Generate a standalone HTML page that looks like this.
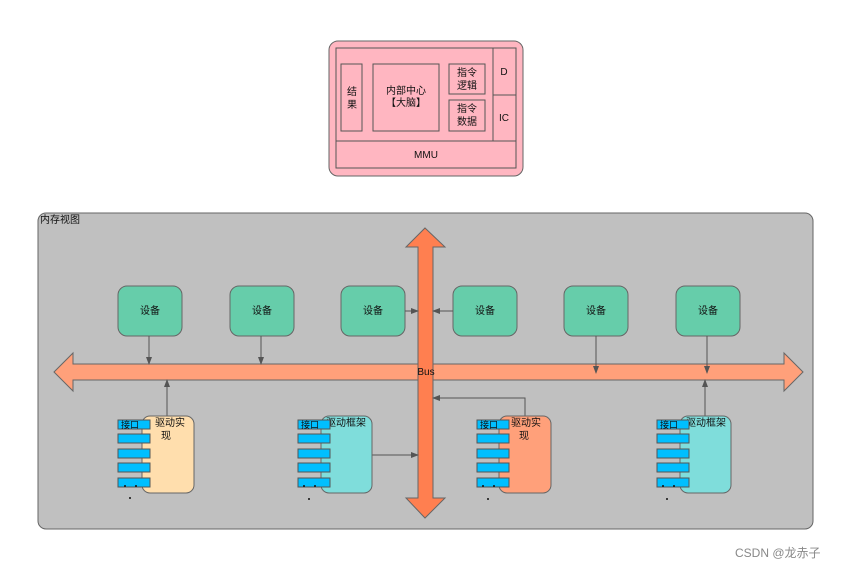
<!DOCTYPE html>
<html><head><meta charset="utf-8"><style>
body{margin:0;background:#fff;width:849px;height:570px;overflow:hidden;font-family:"Liberation Sans","Noto Sans CJK SC",sans-serif}
svg text{font-family:"Liberation Sans","Noto Sans CJK SC",sans-serif;fill:#111}
</style></head><body>
<svg width="849" height="570" viewBox="0 0 849 570" xmlns="http://www.w3.org/2000/svg">
<defs><marker id="a" markerWidth="8" markerHeight="8" refX="7" refY="4" orient="auto" markerUnits="userSpaceOnUse"><path d="M0,1 L8,4 L0,7 Z" fill="#555"/></marker></defs>
<!-- MMU block -->
<rect x="329" y="41" width="194" height="135" rx="9" fill="#ffb6c1" stroke="#666"/>
<rect x="336" y="48" width="180" height="120" fill="none" stroke="#555"/>
<line x1="336" y1="141" x2="516" y2="141" stroke="#555"/>
<line x1="493" y1="48" x2="493" y2="141" stroke="#555"/>
<line x1="493" y1="95" x2="516" y2="95" stroke="#555"/>
<rect x="341" y="64" width="21" height="67" fill="none" stroke="#555"/>
<rect x="373" y="64" width="66" height="67" fill="none" stroke="#555"/>
<rect x="449" y="64" width="36" height="30" fill="none" stroke="#555"/>
<rect x="449" y="100" width="36" height="31" fill="none" stroke="#555"/>
<g font-size="10" text-anchor="middle">
<text x="352" y="95">结</text><text x="352" y="108">果</text>
<text x="406" y="94">内部中心</text><text x="406" y="106">【大脑】</text>
<text x="467" y="76">指令</text><text x="467" y="89">逻辑</text>
<text x="467" y="112">指令</text><text x="467" y="125">数据</text>
<text x="504" y="75">D</text><text x="504" y="121">IC</text>
<text x="426" y="158">MMU</text>
</g>
<!-- container -->
<rect x="38" y="213" width="775" height="316" rx="8" fill="#c0c0c0" stroke="#666"/>
<text x="40" y="223" font-size="10">内存视图</text>
<!-- horizontal bus -->
<path d="M54,372 L73,353 L73,364 L784,364 L784,353 L803,372 L784,391 L784,380 L73,380 L73,391 Z" fill="#ffa07a" stroke="#666"/>
<!-- vertical arrow -->
<path d="M425,228 L445,247 L433,247 L433,498 L445,498 L425,518 L406,498 L418,498 L418,247 L406,247 Z" fill="#ff7f50" stroke="#666"/>
<text x="426" y="375" font-size="10" text-anchor="middle">Bus</text>
<!-- devices -->
<g fill="#66cdaa" stroke="#666">
<rect x="118" y="286" width="64" height="50" rx="9"/><rect x="230" y="286" width="64" height="50" rx="9"/>
<rect x="341" y="286" width="64" height="50" rx="9"/><rect x="453" y="286" width="64" height="50" rx="9"/>
<rect x="564" y="286" width="64" height="50" rx="9"/><rect x="676" y="286" width="64" height="50" rx="9"/>
</g>
<g font-size="10" text-anchor="middle">
<text x="150" y="314">设备</text><text x="262" y="314">设备</text><text x="373" y="314">设备</text>
<text x="485" y="314">设备</text><text x="596" y="314">设备</text><text x="708" y="314">设备</text>
</g>
<g stroke="#555" fill="none" marker-end="url(#a)">
<line x1="149" y1="336" x2="149" y2="364"/><line x1="261" y1="336" x2="261" y2="364"/>
<line x1="405" y1="311" x2="418" y2="311"/><line x1="453" y1="311" x2="433" y2="311"/>
<line x1="596" y1="336" x2="596" y2="373"/><line x1="707" y1="336" x2="707" y2="373"/>
<line x1="167" y1="416" x2="167" y2="380"/><line x1="705" y1="416" x2="705" y2="380"/>
<line x1="372" y1="455" x2="418" y2="455"/>
<polyline points="525,416 525,398 433,398"/>
</g>
<!-- modules -->
<g stroke="#666">
<rect x="142" y="416" width="52" height="77" rx="8" fill="#ffdead"/>
<rect x="321" y="416" width="51" height="77" rx="8" fill="#7fdddb"/>
<rect x="499" y="416" width="52" height="77" rx="8" fill="#ffa07a"/>
<rect x="680" y="416" width="51" height="77" rx="8" fill="#7fdddb"/>
</g>
<g font-size="10" text-anchor="middle">
<text x="170" y="426">驱动实</text><text x="166" y="439">现</text>
<text x="346" y="426">驱动框架</text>
<text x="526" y="426">驱动实</text><text x="524" y="439">现</text>
<text x="706" y="426">驱动框架</text>
</g>
<g fill="#00bfff" stroke="#555">
<rect x="118" y="420" width="32" height="9"/><rect x="118" y="434" width="32" height="9"/><rect x="118" y="449" width="32" height="9"/><rect x="118" y="463" width="32" height="9"/><rect x="118" y="478" width="32" height="9"/>
<rect x="298" y="420" width="32" height="9"/><rect x="298" y="434" width="32" height="9"/><rect x="298" y="449" width="32" height="9"/><rect x="298" y="463" width="32" height="9"/><rect x="298" y="478" width="32" height="9"/>
<rect x="477" y="420" width="32" height="9"/><rect x="477" y="434" width="32" height="9"/><rect x="477" y="449" width="32" height="9"/><rect x="477" y="463" width="32" height="9"/><rect x="477" y="478" width="32" height="9"/>
<rect x="657" y="420" width="32" height="9"/><rect x="657" y="434" width="32" height="9"/><rect x="657" y="449" width="32" height="9"/><rect x="657" y="463" width="32" height="9"/><rect x="657" y="478" width="32" height="9"/>
</g>
<g font-size="9">
<text x="121" y="428">接口</text><text x="301" y="428">接口</text><text x="480" y="428">接口</text><text x="660" y="428">接口</text>
</g>
<g fill="#111">
<circle cx="125" cy="486" r="1"/><circle cx="136" cy="486" r="1"/><circle cx="130" cy="498" r="1"/>
<circle cx="304" cy="486" r="1"/><circle cx="315" cy="486" r="1"/><circle cx="309" cy="499" r="1"/>
<circle cx="483" cy="486" r="1"/><circle cx="494" cy="486" r="1"/><circle cx="488" cy="499" r="1"/>
<circle cx="663" cy="486" r="1"/><circle cx="674" cy="486" r="1"/><circle cx="667" cy="499" r="1"/>
</g>
<text x="735" y="557" font-size="12" style="fill:#888">CSDN @龙赤子</text>
</svg>
</body></html>
